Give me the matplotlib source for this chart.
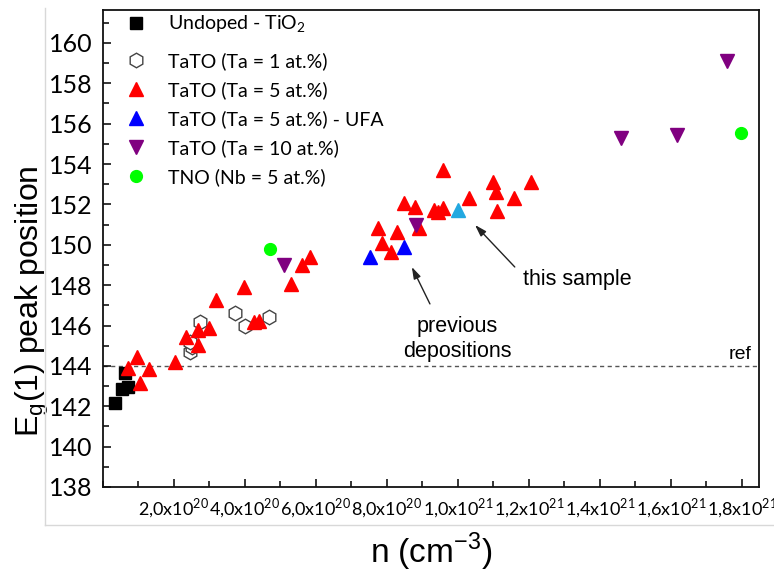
import matplotlib
matplotlib.use("Agg")
import matplotlib.pyplot as plt
from matplotlib.lines import Line2D
from matplotlib.ticker import MultipleLocator, FixedLocator

plt.rcParams['font.family'] = ['Lato', 'DejaVu Sans']
plt.rcParams['mathtext.fontset'] = 'custom'
plt.rcParams['mathtext.rm'] = 'Lato'
plt.rcParams['mathtext.sf'] = 'Liberation Sans'

# Carrier density (cm^-3) and Eg(1) Raman peak position (cm^-1)
undoped_n = [0.34e20, 0.53e20, 0.71e20, 0.62e20]
undoped_eg = [142.15, 142.85, 142.95, 143.65]

ta1_n = [2.45e20, 2.50e20, 2.45e20, 2.73e20, 3.72e20, 4.00e20, 4.68e20]
ta1_eg = [144.70, 144.95, 145.20, 146.19, 146.61, 145.98, 146.44]

ta5_n = [0.95e20, 0.71e20, 1.30e20, 1.04e20, 2.03e20, 2.34e20, 2.69e20, 2.69e20,
         2.99e20, 3.18e20, 3.98e20, 4.25e20, 4.40e20, 5.30e20, 5.60e20, 5.83e20,
         9.57e20, 10.98e20, 12.07e20, 11.07e20, 11.59e20, 10.30e20, 11.09e20,
         8.48e20, 8.79e20, 9.32e20, 9.57e20, 9.45e20, 7.76e20, 8.27e20, 8.91e20,
         7.85e20, 8.10e20]
ta5_eg = [144.43, 143.88, 143.83, 143.17, 144.21, 145.42, 145.78, 145.04,
          145.86, 147.27, 147.90, 146.15, 146.20, 148.06, 149.00, 149.38,
          153.71, 153.13, 153.13, 152.60, 152.31, 152.31, 151.69,
          152.09, 151.89, 151.73, 151.81, 151.60, 150.82, 150.65, 150.82,
          150.08, 149.66]

ufa_n = [7.52e20, 8.49e20]
ufa_eg = [149.41, 149.91]

sample_n = [10.01e20]
sample_eg = [151.73]

ta10_n = [5.10e20, 8.82e20, 14.58e20, 16.18e20, 17.57e20]
ta10_eg = [149.00, 150.98, 155.28, 155.44, 159.08]

tno_n = [4.70e20, 17.97e20]
tno_eg = [149.79, 155.53]

ref_eg = 144.0

x_ticks = [2e20, 4e20, 6e20, 8e20, 1e21, 1.2e21, 1.4e21, 1.6e21, 1.8e21]
x_tick_labels = ['2,0x10$^{20}$', '4,0x10$^{20}$', '6,0x10$^{20}$', '8,0x10$^{20}$',
                 '1,0x10$^{21}$', '1,2x10$^{21}$', '1,4x10$^{21}$', '1,6x10$^{21}$',
                 '1,8x10$^{21}$']

fig = plt.figure(figsize=(7.74, 5.72), dpi=100)
ax = fig.add_axes([103 / 774, 1 - 487 / 572, (759 - 103) / 774, (487 - 10) / 572])

# light page frame
fig.add_artist(Line2D([45 / 774, 45 / 774], [1 - 525 / 572, 1 - 8 / 572],
                      transform=fig.transFigure, color='#d8d8d8', lw=1))
fig.add_artist(Line2D([45 / 774, 1.0], [1 - 525 / 572, 1 - 525 / 572],
                      transform=fig.transFigure, color='#d8d8d8', lw=1))

ax.axhline(ref_eg, color='#555555', lw=1, ls=(0, (3, 2.5)), zorder=1)

h_undoped, = ax.plot(undoped_n, undoped_eg, ls='none', marker='s', ms=8, color='black',
                     label='Undoped - TiO$_2$', zorder=3)
h_ta1, = ax.plot(ta1_n, ta1_eg, ls='none', marker='h', ms=10.5, mfc='white', mec='#444444',
                 mew=1.0, label='TaTO (Ta = 1 at.%)', zorder=3)
h_ta5, = ax.plot(ta5_n, ta5_eg, ls='none', marker='^', ms=10, color='#ff0000',
                 label='TaTO (Ta = 5 at.%)', zorder=4)
h_ufa, = ax.plot(ufa_n, ufa_eg, ls='none', marker='^', ms=10, color='#0000ff',
                 label='TaTO (Ta = 5 at.%) - UFA', zorder=4)
h_ta10, = ax.plot(ta10_n, ta10_eg, ls='none', marker='v', ms=10, color='#800080',
                  label='TaTO (Ta = 10 at.%)', zorder=5)
h_tno, = ax.plot(tno_n, tno_eg, ls='none', marker='o', ms=8.5, color='#00ff00',
                 label='TNO (Nb = 5 at.%)', zorder=5)
ax.plot(sample_n, sample_eg, ls='none', marker='^', ms=10, color='#22a8e0', zorder=5)

ax.set_xlim(0, 1.848e21)
ax.set_ylim(138, 161.63)

ax.xaxis.set_major_locator(FixedLocator(x_ticks))
ax.set_xticklabels(x_tick_labels)
ax.xaxis.set_minor_locator(MultipleLocator(1e20))
ax.yaxis.set_major_locator(MultipleLocator(2))
ax.yaxis.set_minor_locator(MultipleLocator(1))

ax.tick_params(which='both', direction='in', top=False, right=False, width=1.1,
               colors='black')
ax.tick_params(axis='x', which='major', length=6, pad=7, labelsize=13)
ax.tick_params(axis='x', which='minor', length=4)
ax.tick_params(axis='y', which='major', length=6, pad=7.5, labelsize=18)
ax.tick_params(axis='y', which='minor', length=4)
for sp in ax.spines.values():
    sp.set_linewidth(1.3)
    sp.set_color('#111111')

ax.set_xlabel('n (cm$^\\mathsf{-3}$)', family='Liberation Sans', fontsize=24)
ax.xaxis.set_label_coords(0.5, -0.092)
ax.set_ylabel('E$_\\mathsf{g}$(1) peak position', family='Liberation Sans', fontsize=23)
ax.yaxis.set_label_coords(-0.08, 0.39)

legend_kw = dict(frameon=False, fontsize=14, handletextpad=0.9, labelspacing=0.57,
                 borderaxespad=0, borderpad=0, handlelength=1.5)
leg_top = ax.legend(handles=[h_undoped], loc='upper left',
                    bbox_to_anchor=(0.028, 0.993), **legend_kw)
ax.add_artist(leg_top)
ax.legend(handles=[h_ta1, h_ta5, h_ufa, h_ta10, h_tno], loc='upper left',
          bbox_to_anchor=(0.028, 0.912), **legend_kw)

ax.text(18.28e20, ref_eg + 0.15, 'ref', ha='right', va='bottom',
        family='Liberation Sans', fontsize=14)

arrow = dict(arrowstyle='-|>,head_length=0.7,head_width=0.22', color='#222222', lw=1,
             shrinkA=0, shrinkB=0)
ax.annotate('', xy=(10.48e20, 150.98), xytext=(11.6e20, 148.9), arrowprops=arrow)
ax.text(11.83e20, 148.26, 'this sample', ha='left', va='center',
        family='Liberation Sans', fontsize=15.5)
ax.annotate('', xy=(8.70e20, 148.9), xytext=(9.21e20, 147.07), arrowprops=arrow)
ax.text(9.97e20, 145.33, 'previous\ndepositions', ha='center', va='center',
        family='Liberation Sans', fontsize=15.5, linespacing=1.25)

fig.savefig('out.png', dpi=100)
